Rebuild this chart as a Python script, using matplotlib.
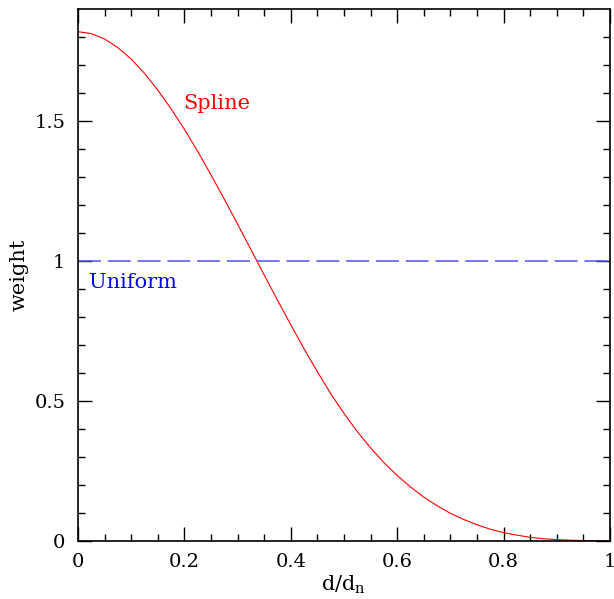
import numpy as np
import matplotlib.pyplot as plt

plt.rcParams['font.family'] = 'DejaVu Serif'
plt.rcParams['mathtext.fontset'] = 'dejavuserif'

# spline weight, d/d_n every 0.025
d = [0.0, 0.025, 0.05, 0.075, 0.1, 0.125, 0.15, 0.175, 0.2, 0.225,
     0.25, 0.275, 0.3, 0.325, 0.35, 0.375, 0.4, 0.425, 0.45, 0.475,
     0.5, 0.525, 0.55, 0.575, 0.6, 0.625, 0.65, 0.675, 0.7, 0.725,
     0.75, 0.775, 0.8, 0.825, 0.85, 0.875, 0.9, 0.925, 0.95, 0.975, 1.0]
spline = [1.820, 1.813, 1.794, 1.763, 1.722, 1.671, 1.611, 1.544, 1.471, 1.392,
          1.308, 1.221, 1.132, 1.041, 0.950, 0.860, 0.772, 0.686, 0.604, 0.526,
          0.455, 0.390, 0.332, 0.279, 0.233, 0.192, 0.156, 0.125, 0.098, 0.076,
          0.057, 0.041, 0.029, 0.020, 0.012, 0.007, 0.004, 0.002, 0.0005, 0.0, 0.0]
uniform_x = [0.0, 1.0]
uniform = [1.0, 1.0]

fig = plt.figure(figsize=(6.14, 5.99), dpi=100)
ax = fig.add_axes([0.127, 0.0973, 0.8665, 0.8872])

ax.plot(d, spline, color='red', lw=0.8)
ax.plot(uniform_x, uniform, color='#5050ff', lw=1.1, dashes=(15, 4.5))

ax.text(0.198, 1.545, 'Spline', color='red', fontsize=15)
ax.text(0.02, 0.905, 'Uniform', color='blue', fontsize=15)

ax.set_xlim(0, 1)
ax.set_ylim(0, 1.9)
ax.set_xticks([0, 0.2, 0.4, 0.6, 0.8, 1])
ax.set_xticklabels(['0', '0.2', '0.4', '0.6', '0.8', '1'])
ax.set_xticks(np.arange(0, 1.001, 0.05), minor=True)
ax.set_yticks([0, 0.5, 1, 1.5])
ax.set_yticklabels(['0', '0.5', '1', '1.5'])
ax.set_yticks(np.arange(0, 1.9, 0.1), minor=True)
ax.tick_params(which='both', direction='in', top=True, right=True, labelsize=14, width=1)
ax.tick_params(which='major', length=10, pad=9)
ax.tick_params(which='minor', length=5)
for s in ax.spines.values():
    s.set_linewidth(1.2)

ax.set_xlabel(r'd/d$_\mathrm{n}$', fontsize=15, labelpad=2)
ax.set_ylabel('weight', fontsize=15, labelpad=4)

fig.savefig('out.png', dpi=100)
